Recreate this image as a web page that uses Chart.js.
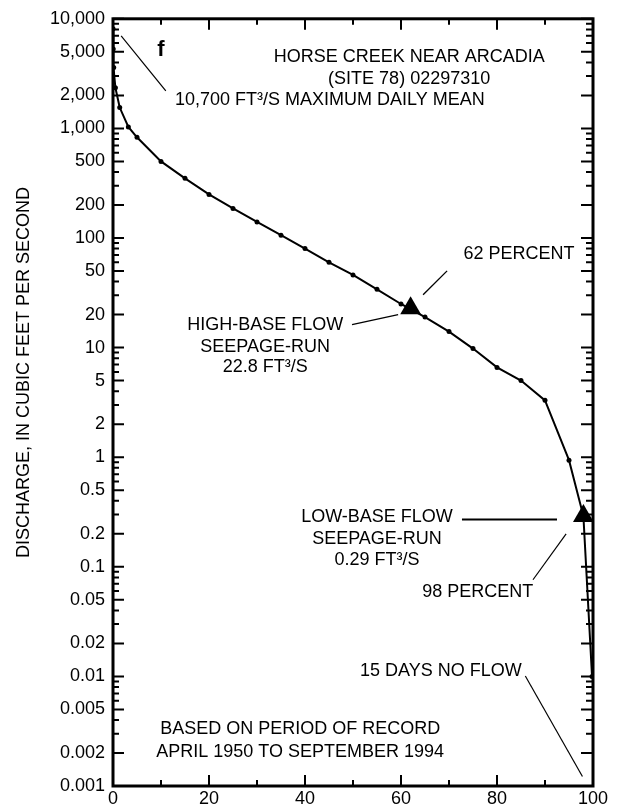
<!DOCTYPE html>
<html>
<head>
<meta charset="utf-8">
<script src="https://cdn.jsdelivr.net/npm/chart.js@4.4.1/dist/chart.umd.min.js"></script>
<style>
  html, body { margin: 0; padding: 0; background: #fff; }
  canvas { display: block; }
</style>
</head>
<body>
<canvas id="durationChart" width="621" height="810"></canvas>
<script>
// Flow-duration curve, Horse Creek near Arcadia
const exceedPercent = [0.01, 0.05, 0.15, 0.5, 1.4, 3.2, 5, 10, 15, 20, 25, 30, 35, 40, 45, 50, 55, 60, 65, 70, 75, 80, 85, 90, 95, 98, 99.8];
const dischargeCfs  = [8100, 5300, 3600, 2350, 1550, 1030, 830, 500, 350, 250, 186, 140, 106, 80, 60, 46, 34, 25, 19, 14, 9.8, 6.6, 5.0, 3.3, 0.94, 0.29, 0.01];

// seepage-run markers
const seepagePercent   = [62, 98];
const seepageDischarge = [22.8, 0.29];

const xTickValues = [0, 20, 40, 60, 80, 100];
const xTickLabels = ['0', '20', '40', '60', '80', '100'];
const yTickValues = [10000, 5000, 2000, 1000, 500, 200, 100, 50, 20, 10, 5, 2, 1, 0.5, 0.2, 0.1, 0.05, 0.02, 0.01, 0.005, 0.002, 0.001];
const yTickLabels = ['10,000', '5,000', '2,000', '1,000', '500', '200', '100', '50', '20', '10', '5', '2', '1', '0.5', '0.2', '0.1', '0.05', '0.02', '0.01', '0.005', '0.002', '0.001'];

const FONT = '"Liberation Sans", Arial, Helvetica, sans-serif';

// notes placed in data units: [text, percent, discharge, align]
const notes = [
  ['HORSE CREEK NEAR ARCADIA', 61.7, 4500, 'center'],
  ['(SITE 78) 02297310', 61.7, 2850, 'center'],
  ['10,700 FT\u00B3/S MAXIMUM DAILY MEAN', 12.9, 1830, 'left'],
  ['62 PERCENT', 84.6, 71.5, 'center'],
  ['HIGH-BASE FLOW', 31.7, 16.2, 'center'],
  ['SEEPAGE-RUN', 31.7, 10.2, 'center'],
  ['22.8 FT\u00B3/S', 31.7, 6.58, 'center'],
  ['LOW-BASE FLOW', 55, 0.285, 'center'],
  ['SEEPAGE-RUN', 55, 0.18, 'center'],
  ['0.29 FT\u00B3/S', 55, 0.116, 'center'],
  ['98 PERCENT', 76, 0.0593, 'center'],
  ['15 DAYS NO FLOW', 68.3, 0.0111, 'center'],
  ['BASED ON PERIOD OF RECORD', 39, 0.0033, 'center'],
  ['APRIL 1950 TO SEPTEMBER 1994', 39, 0.00206, 'center']
];

// leader lines: [x1, y1, x2, y2, width]
const leaders = [
  [1.7, 7000, 11, 2200, 1.2],
  [69.6, 50.1, 64.6, 30.3, 1.3],
  [49.8, 16.2, 59.4, 20.0, 1.3],
  [72.7, 0.27, 92.5, 0.27, 2],
  [87.5, 0.0762, 94.4, 0.2, 1.2],
  [85.9, 0.0101, 97.8, 0.00122, 1.2]
];

function yMinorTicks() {
  const out = [];
  for (let e = -3; e <= 3; e++) {
    [3, 4, 6, 7, 8, 9].forEach(m => out.push(m * Math.pow(10, e)));
  }
  return out;
}

const framePlugin = {
  id: 'frame',
  beforeDatasetsDraw(chart) {
    const { ctx, chartArea: a, scales: { x, y } } = chart;
    ctx.save();
    ctx.strokeStyle = '#000';
    ctx.lineWidth = 2;
    ctx.beginPath();
    const yTick = (v, lenL, lenR) => {
      const py = y.getPixelForValue(v);
      ctx.moveTo(a.left, py); ctx.lineTo(a.left + lenL, py);
      ctx.moveTo(a.right, py); ctx.lineTo(a.right - lenR, py);
    };
    yTickValues.forEach(v => yTick(v, 11, 12));
    yMinorTicks().forEach(v => yTick(v, 6, 7));
    for (let v = 0; v <= 100; v += 10) {
      const px = x.getPixelForValue(v);
      const len = v % 20 === 0 ? 11 : 6;
      ctx.moveTo(px, a.top); ctx.lineTo(px, a.top + len);
      ctx.moveTo(px, a.bottom); ctx.lineTo(px, a.bottom - len);
    }
    ctx.stroke();
    ctx.lineWidth = 3;
    ctx.strokeRect(a.left, a.top, a.right - a.left, a.bottom - a.top);
    ctx.restore();
  },
  afterDraw(chart) {
    const { ctx, scales: { x, y } } = chart;
    ctx.save();
    ctx.fillStyle = '#000';
    ctx.strokeStyle = '#000';
    ctx.textBaseline = 'middle';
    ctx.font = '18px ' + FONT;
    notes.forEach(([t, px, py, align]) => {
      ctx.textAlign = align;
      ctx.fillText(t, x.getPixelForValue(px), y.getPixelForValue(py));
    });
    leaders.forEach(([x1, y1, x2, y2, w]) => {
      ctx.lineWidth = w;
      ctx.beginPath();
      ctx.moveTo(x.getPixelForValue(x1), y.getPixelForValue(y1));
      ctx.lineTo(x.getPixelForValue(x2), y.getPixelForValue(y2));
      ctx.stroke();
    });
    // panel letter
    ctx.font = 'bold 22px ' + FONT;
    ctx.textAlign = 'center';
    ctx.fillText('f', x.getPixelForValue(10), y.getPixelForValue(5200));
    // axis title
    ctx.font = '18px ' + FONT;
    ctx.translate(24, y.getPixelForValue(5.93));
    ctx.rotate(-Math.PI / 2);
    ctx.fillText('DISCHARGE, IN CUBIC FEET PER SECOND', 0, 0);
    ctx.restore();
  }
};

new Chart(document.getElementById('durationChart'), {
  type: 'line',
  data: {
    datasets: [
      {
        data: exceedPercent.map((p, i) => ({ x: p, y: dischargeCfs[i] })),
        borderColor: '#000',
        borderWidth: 2,
        pointRadius: 2.5,
        pointBackgroundColor: '#000',
        pointBorderWidth: 0,
        tension: 0
      },
      {
        data: seepagePercent.map((p, i) => ({ x: p, y: seepageDischarge[i] })),
        showLine: false,
        pointStyle: 'triangle',
        pointRadius: 12,
        pointBackgroundColor: '#000',
        pointBorderColor: '#000',
        pointBorderWidth: 0
      }
    ]
  },
  options: {
    responsive: false,
    animation: false,
    layout: { padding: { left: 0, top: 16, right: 28, bottom: 0 } },
    plugins: { legend: { display: false }, tooltip: { enabled: false } },
    scales: {
      x: {
        type: 'linear',
        min: 0,
        max: 100,
        grid: { display: false, drawTicks: false },
        border: { display: false },
        afterBuildTicks: s => { s.ticks = xTickValues.map(v => ({ value: v })); },
        afterFit: s => { s.height = 24; },
        ticks: {
          color: '#000',
          font: { family: FONT, size: 18 },
          padding: 2,
          maxRotation: 0,
          autoSkip: false,
          callback: (v, i) => xTickLabels[i]
        }
      },
      y: {
        type: 'logarithmic',
        min: 0.001,
        max: 10000,
        grid: { display: false, drawTicks: false },
        border: { display: false },
        afterBuildTicks: s => { s.ticks = yTickValues.map(v => ({ value: v })); },
        afterFit: s => { s.width = 113; },
        ticks: {
          color: '#000',
          font: { family: FONT, size: 18 },
          padding: 8,
          autoSkip: false,
          callback: (v, i) => yTickLabels[i]
        }
      }
    }
  },
  plugins: [framePlugin]
});
</script>
</body>
</html>
